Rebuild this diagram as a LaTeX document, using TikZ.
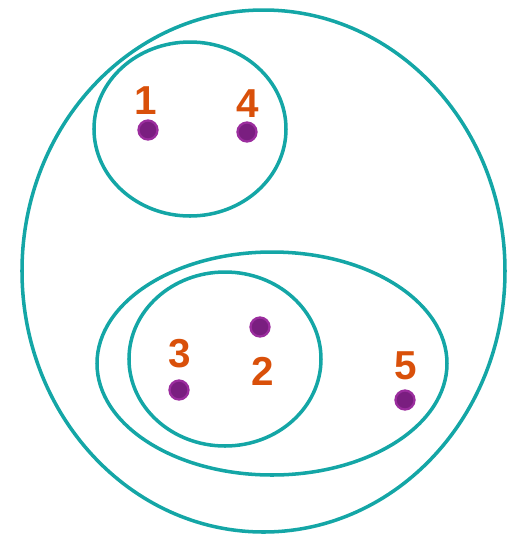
\documentclass[tikz,border=0pt]{standalone}
\usepackage{fontspec}
\setsansfont{Liberation Sans}
\definecolor{setteal}{RGB}{20,166,166}
\definecolor{dotpurple}{RGB}{122,30,128}
\definecolor{dotrim}{RGB}{155,45,158}
\definecolor{numorange}{RGB}{217,80,10}
\begin{document}
\begin{tikzpicture}[x=0.02cm, y=-0.02cm]
    % Define styles
    \tikzstyle{setline} = [draw=setteal, line width=2pt]
    \tikzstyle{elem} = [circle, inner sep=0pt, minimum size=0.38cm, fill=dotpurple, draw=dotrim, line width=1.3pt]
    \tikzstyle{num} = [text=numorange, font=\sffamily\bfseries\fontsize{23}{25}\selectfont, inner sep=0pt]

    \useasboundingbox (0,0) rectangle (507,539);

    % Sets
    \draw [setline] (263.5,271) ellipse [x radius=241.5, y radius=261];
    \draw [setline] (190,129) ellipse [x radius=96, y radius=87];
    \draw [setline] (272,363.5) ellipse [x radius=175, y radius=111.5];
    \draw [setline] (225,359) ellipse [x radius=96, y radius=87];

    % Place elements
    \node (e1) [elem] at (148,130) {};
    \node (e4) [elem] at (247,132) {};
    \node (e2) [elem] at (260,327) {};
    \node (e3) [elem] at (179,390) {};
    \node (e5) [elem] at (405,400) {};

    % Labels
    \node (n1) [num] at (146,101) {1};
    \node (n4) [num] at (248,104) {4};
    \node (n3) [num] at (180,354) {3};
    \node (n2) [num] at (263,371) {2};
    \node (n5) [num] at (406,366) {5};
\end{tikzpicture}
\end{document}
